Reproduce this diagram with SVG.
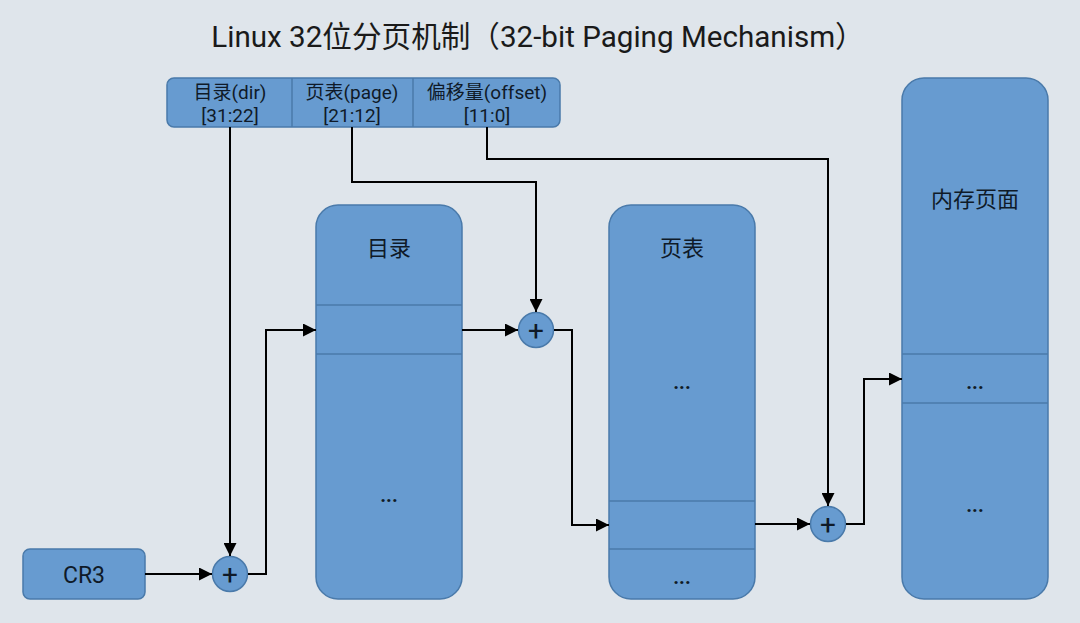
<svg xmlns="http://www.w3.org/2000/svg" width="1080" height="623" viewBox="0 0 1080 623">
<defs>
<marker id="arr" viewBox="0 0 10 10" refX="10" refY="5" markerWidth="14" markerHeight="13" markerUnits="userSpaceOnUse" orient="auto">
<path d="M0,0 L10,5 L0,10 z" fill="#000"/>
</marker>
<style>
.box{fill:#679bd0;stroke:#4a7aaa;stroke-width:1.5}
.sep{stroke:#4a7aaa;stroke-width:1.5}
.t{font-family:Roboto,"Noto Sans CJK SC",sans-serif;fill:#0f1a28;text-anchor:middle}
.a{font-size:19px}
.l{font-size:22px}
.d{font-size:20px;font-weight:bold}
.p{font-size:28px}
.c{stroke:#000;stroke-width:2;fill:none}
</style>
</defs>
<rect width="1080" height="623" fill="#dfe5eb"/>
<text class="t" x="538" y="47" font-size="29.6" style="fill:#1a1a1a">Linux 32位分页机制（32-bit Paging Mechanism）</text>

<g id="addr">
<rect class="box" x="167" y="78" width="393" height="49" rx="7"/>
<line class="sep" x1="292" y1="78" x2="292" y2="127"/>
<line class="sep" x1="413" y1="78" x2="413" y2="127"/>
<text class="t a" x="230" y="99">目录(dir)</text>
<text class="t a" x="230" y="122">[31:22]</text>
<text class="t a" x="352" y="99">页表(page)</text>
<text class="t a" x="352" y="122">[21:12]</text>
<text class="t a" x="487" y="99">偏移量(offset)</text>
<text class="t a" x="487" y="122">[11:0]</text>
</g>

<g id="cr3">
<rect class="box" x="23" y="549" width="122" height="50" rx="7"/>
<text class="t" x="84" y="583" font-size="23">CR3</text>
</g>

<g id="dir">
<rect class="box" x="316" y="205" width="146" height="394" rx="22"/>
<line class="sep" x1="316" y1="305" x2="462" y2="305"/>
<line class="sep" x1="316" y1="354" x2="462" y2="354"/>
<text class="t l" x="389" y="256">目录</text>
<text class="t d" x="389" y="502">...</text>
</g>

<g id="pt">
<rect class="box" x="609" y="205" width="146" height="394" rx="22"/>
<line class="sep" x1="609" y1="501" x2="755" y2="501"/>
<line class="sep" x1="609" y1="549" x2="755" y2="549"/>
<text class="t l" x="682" y="256">页表</text>
<text class="t d" x="682" y="389">...</text>
<text class="t d" x="682" y="584">...</text>
</g>

<g id="mem">
<rect class="box" x="902" y="78" width="146" height="521" rx="22"/>
<line class="sep" x1="902" y1="354" x2="1048" y2="354"/>
<line class="sep" x1="902" y1="403" x2="1048" y2="403"/>
<text class="t l" x="975" y="207">内存页面</text>
<text class="t d" x="975" y="389">...</text>
<text class="t d" x="975" y="512">...</text>
</g>

<g id="add1">
<circle class="box" cx="230" cy="574" r="17.5"/>
<text class="t p" x="230" y="584">+</text>
</g>
<g id="add2">
<circle class="box" cx="536" cy="330" r="17.5"/>
<text class="t p" x="536" y="340">+</text>
</g>
<g id="add3">
<circle class="box" cx="828" cy="524" r="17.5"/>
<text class="t p" x="828" y="534">+</text>
</g>

<g id="connectors">
<path class="c" d="M230,127 V556" marker-end="url(#arr)"/>
<path class="c" d="M145,574 H212" marker-end="url(#arr)"/>
<path class="c" d="M248,574 H266 V330 H316" marker-end="url(#arr)"/>
<path class="c" d="M352,127 V182 H536 V312" marker-end="url(#arr)"/>
<path class="c" d="M462,330 H518" marker-end="url(#arr)"/>
<path class="c" d="M554,330 H572 V525 H609" marker-end="url(#arr)"/>
<path class="c" d="M487,127 V159 H828 V506" marker-end="url(#arr)"/>
<path class="c" d="M755,524 H810" marker-end="url(#arr)"/>
<path class="c" d="M846,524 H864 V379 H902" marker-end="url(#arr)"/>
</g>
</svg>
